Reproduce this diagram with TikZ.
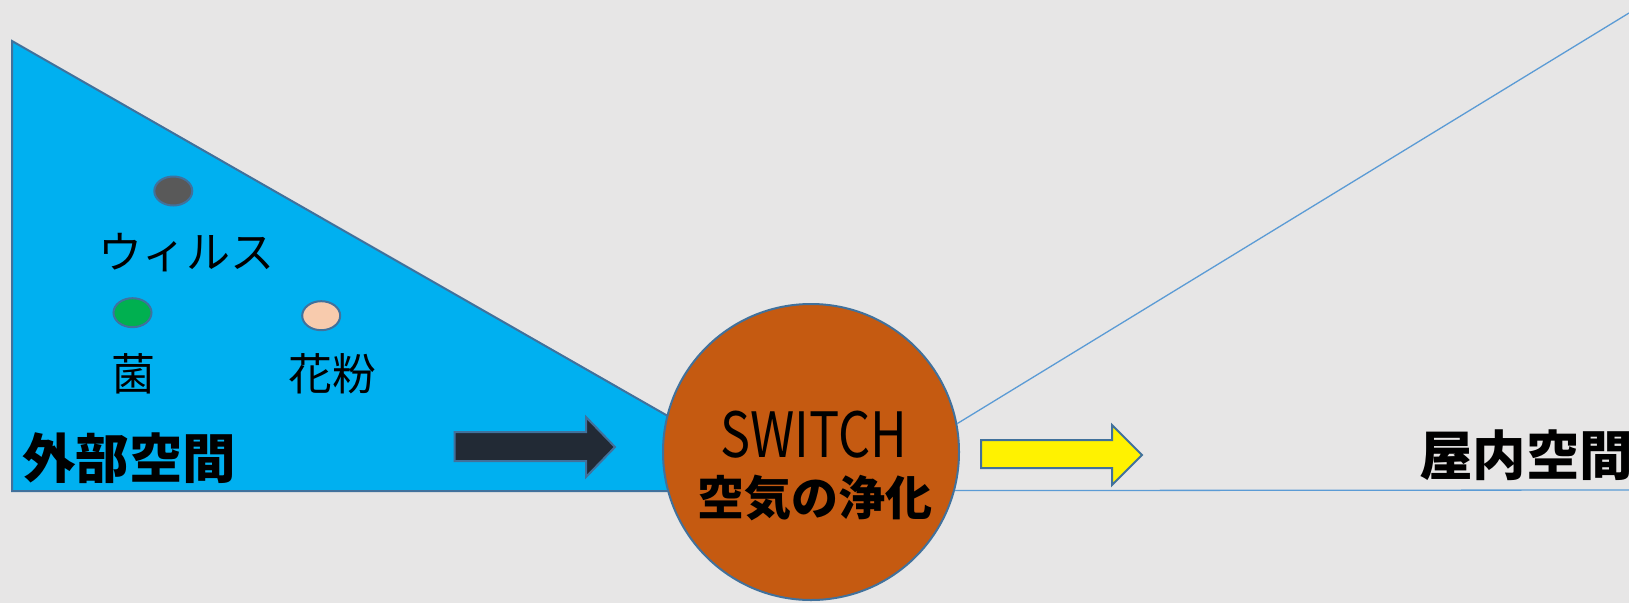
\documentclass[tikz,border=0pt]{standalone}
\usepackage{fontspec}
\setmainfont{Noto Sans CJK JP}
\usetikzlibrary{shapes.geometric}
\definecolor{bg}{HTML}{E7E6E6}
\definecolor{skyfill}{HTML}{00B0F0}
\definecolor{edgeblue}{HTML}{41719C}
\definecolor{lineblue}{HTML}{5B9BD5}
\definecolor{rust}{HTML}{C55A11}
\definecolor{darkarrow}{HTML}{222A35}
\definecolor{virusgray}{HTML}{595959}
\definecolor{germgreen}{HTML}{00B050}
\definecolor{pollen}{HTML}{F8CBAD}
\tikzset{
  outlined/.style={draw=edgeblue, line width=2pt, line join=miter},
  dot/.style={ellipse, draw=edgeblue, line width=2pt, minimum width=38pt, minimum height=29pt, inner sep=0pt},
  thinline/.style={draw=lineblue, line width=1.3pt},
  lbl/.style={inner sep=0pt, anchor=base, font=\fontsize{44}{50}\selectfont},
  biglbl/.style={inner sep=0pt, anchor=base west, font=\fontsize{53.5}{58}\selectfont\bfseries},
}
\begin{document}
\begin{tikzpicture}[x=1pt, y=-1pt]
\fill[bg] (0,0) rectangle (1629,603);
\useasboundingbox (0,0) rectangle (1629,603);
% outside triangle
\path[outlined, fill=skyfill] (12,41) -- (12,491) -- (799,491) -- cycle;
% dots
\node[dot, fill=virusgray] (virus) at (173.3,191) {};
\node[dot, fill=germgreen] (germ) at (132.5,312.7) {};
\node[dot, fill=pollen] (pol) at (321.2,315.7) {};
\node[lbl] (tvirus) at (186.5,268) {ウィルス};
\node[lbl] (tgerm) at (133.5,390) {菌};
\node[lbl] (tpol) at (332,390) {花粉};
\node[biglbl] (outside) at (22,478) {外部空間};
% dark arrow
\path[outlined, fill=darkarrow] (454.5,432) -- (586,432) -- (586,417) -- (615,447) -- (586,477) -- (586,461) -- (454.5,461) -- cycle;
% circle
\node[circle, outlined, fill=rust, minimum size=296pt, inner sep=0pt] (sw) at (811,452) {};
\node[inner sep=0pt, anchor=base, font=\fontsize{52}{58}\selectfont] (swt) at (814,457) {\scalebox{0.97}[1.2]{SWITCH}};
\node[inner sep=0pt, anchor=base, font=\fontsize{47}{52}\selectfont\bfseries] (clean) at (815,515) {空気の浄化};
% right lines
\coordinate (topend) at (1629,13);
\coordinate (botend) at (1629,490);
\draw[thinline] (sw.11.7) -- (topend);
\draw[thinline] (sw.-15.3) -- (botend);
% yellow arrow
\path[outlined, fill=yellow] (981,440) -- (1112,440) -- (1112,425) -- (1142,455) -- (1112,485) -- (1112,468) -- (981,468) -- cycle;
\node[biglbl] (inside) at (1419,475) {屋内空間};
\end{tikzpicture}
\end{document}
